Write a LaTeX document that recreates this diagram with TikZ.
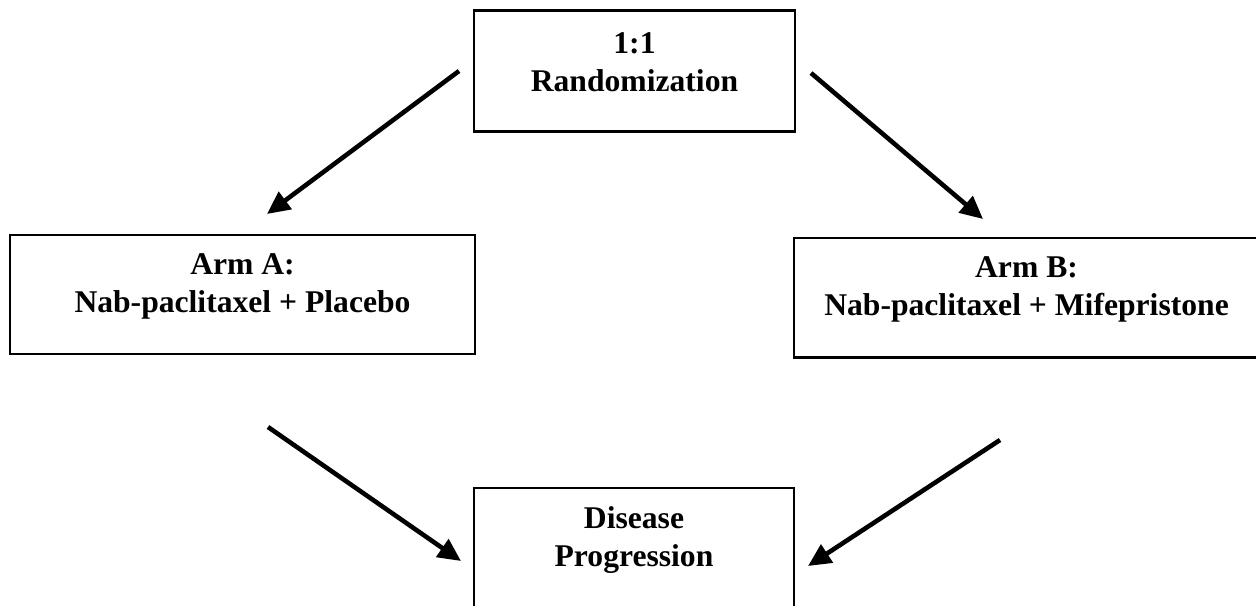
\documentclass[tikz,border=0pt]{standalone}
\usepackage{fontspec}
\setmainfont{Liberation Serif}
\usetikzlibrary{arrows.meta}
\tikzstyle{box}=[draw,line width=1.2pt,rectangle,inner sep=0]
\tikzstyle{boxtext}=[anchor=north,align=center,inner sep=0,yshift=-11pt,font=\bfseries\fontsize{18}{21.6}\selectfont]
\tikzstyle{arr}=[line width=2.6pt,-{Triangle[length=13pt,width=12pt]}]

\begin{document}
\begin{tikzpicture}[x=0.02cm,y=-0.02cm]
\useasboundingbox (0,0) rectangle (1256,605);

\node[box,minimum width=6.42cm,minimum height=2.42cm] (rand) at (634.5,71) {};
\node[boxtext,yshift=-2pt] (randtxt) at (rand.north) {1:1\\Randomization};

\node[box,minimum width=9.3cm,minimum height=2.38cm] (arma) at (242.5,294.5) {};
\node[boxtext] (armatxt) at (arma.north) {Arm A:\\Nab-paclitaxel + Placebo};

\node[box,minimum width=9.3cm,minimum height=2.39cm] (armb) at (1026.5,297.75) {};
\node[boxtext] (armbtxt) at (armb.north) {Arm B:\\Nab-paclitaxel + Mifepristone};

\node[box,minimum width=6.4cm,minimum height=2.6cm] (prog) at (634,553) {};
\node[boxtext] (progtxt) at (prog.north) {Disease\\Progression};

% arrow ends
\coordinate (ra) at (459,71);
\coordinate (ra2) at (267,214);
\coordinate (rb) at (811,73);
\coordinate (rb2) at (983,219);
\coordinate (ap) at (268,427);
\coordinate (ap2) at (461,561);
\coordinate (bp) at (1000,440);
\coordinate (bp2) at (808,566);

\draw[arr] (ra)--(ra2);
\draw[arr] (rb)--(rb2);
\draw[arr] (ap)--(ap2);
\draw[arr] (bp)--(bp2);
\end{tikzpicture}
\end{document}
